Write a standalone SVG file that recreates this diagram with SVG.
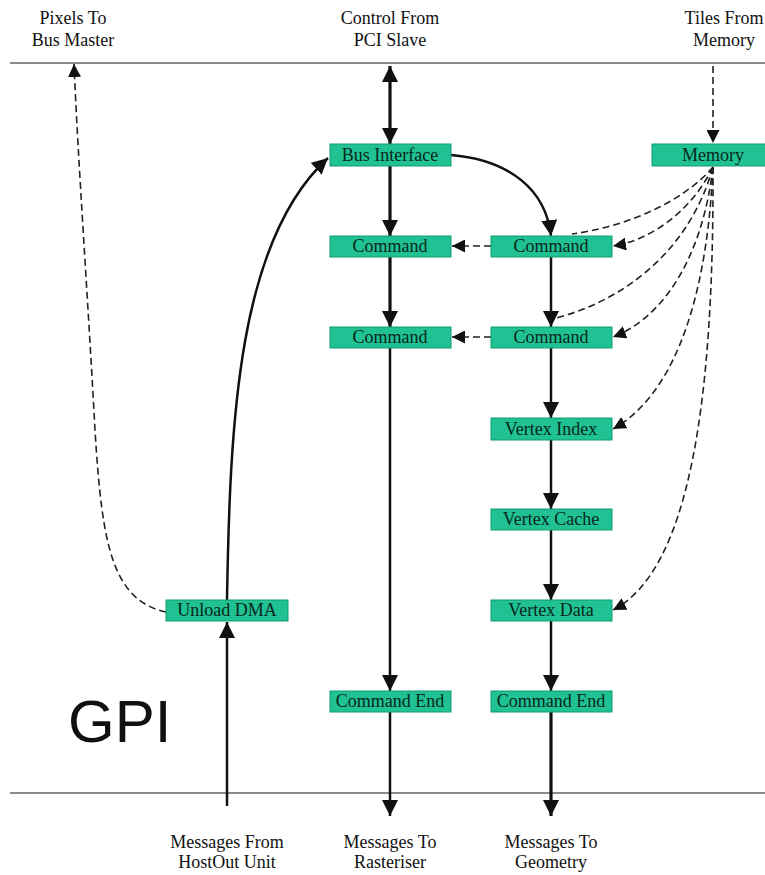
<svg xmlns="http://www.w3.org/2000/svg" width="765" height="875" viewBox="0 0 765 875">
<style>
.box{fill:#20c192;stroke:#159a70;stroke-width:1}
.bl{font-family:"Liberation Serif","Times New Roman",serif;font-size:18px;fill:#08281e;text-anchor:middle}
.lbl{font-family:"Liberation Serif","Times New Roman",serif;font-size:18px;fill:#111;text-anchor:middle}
.rule{stroke:#8c8c8c;stroke-width:2}
.s{fill:none;stroke:#111;stroke-width:2.5}
.t{fill:none;stroke:#111;stroke-width:3.2}
.d{fill:none;stroke:#222;stroke-width:1.6;stroke-dasharray:7,4}
</style>
<defs>
<marker id="ah" viewBox="0 0 10 10" refX="10" refY="5" markerWidth="16" markerHeight="16" markerUnits="userSpaceOnUse" orient="auto"><path d="M0,0 L10,5 L0,10 z" fill="#111"/></marker>
<marker id="ahs" viewBox="0 0 10 10" refX="10" refY="5" markerWidth="16" markerHeight="16" markerUnits="userSpaceOnUse" orient="auto-start-reverse"><path d="M0,0 L10,5 L0,10 z" fill="#111"/></marker>
<marker id="ad" viewBox="0 0 10 10" refX="10" refY="5" markerWidth="13" markerHeight="13" markerUnits="userSpaceOnUse" orient="auto"><path d="M0,0 L10,5 L0,10 z" fill="#111"/></marker>
</defs>
<rect width="765" height="875" fill="#fff"/>
<line class="rule" x1="10" y1="63" x2="765" y2="63"/>
<line class="rule" x1="10" y1="793" x2="765" y2="793"/>
<text x="68" y="742" font-family="Liberation Sans, Arial, sans-serif" font-size="60" fill="#111">GPI</text>
<g id="labels">
<text class="lbl" x="73" y="24">Pixels To</text>
<text class="lbl" x="73" y="46">Bus Master</text>
<text class="lbl" x="390" y="24">Control From</text>
<text class="lbl" x="390" y="46">PCI Slave</text>
<text class="lbl" x="724" y="24">Tiles From</text>
<text class="lbl" x="724" y="46">Memory</text>
<text class="lbl" x="227" y="848">Messages From</text>
<text class="lbl" x="227" y="868">HostOut Unit</text>
<text class="lbl" x="390" y="848">Messages To</text>
<text class="lbl" x="390" y="868">Rasteriser</text>
<text class="lbl" x="551" y="848">Messages To</text>
<text class="lbl" x="551" y="868">Geometry</text>
</g>
<g id="connectors">
<line class="t" x1="390" y1="66" x2="390" y2="144" marker-start="url(#ahs)" marker-end="url(#ah)"/>
<line class="d" x1="713" y1="66" x2="713" y2="143" marker-end="url(#ad)"/>
<path class="d" d="M166,612 C112,600 102,545 95,430 C88,300 78,160 74,64" marker-end="url(#ad)"/>
<line class="t" x1="390" y1="166" x2="390" y2="236" marker-end="url(#ah)"/>
<path class="s" d="M451,155 C510,160 546,190 551,236" marker-end="url(#ah)"/>
<path class="s" d="M227,600 C230,420 238,240 328,158" marker-end="url(#ah)"/>
<line class="s" x1="227" y1="806" x2="227" y2="622" marker-end="url(#ah)"/>
<line class="t" x1="390" y1="257" x2="390" y2="327" marker-end="url(#ah)"/>
<line class="s" x1="551" y1="257" x2="551" y2="327" marker-end="url(#ah)"/>
<line class="d" x1="491" y1="246" x2="452" y2="246" marker-end="url(#ad)"/>
<line class="d" x1="491" y1="337" x2="452" y2="337" marker-end="url(#ad)"/>
<line class="s" x1="551" y1="348" x2="551" y2="418" marker-end="url(#ah)"/>
<line class="s" x1="551" y1="440" x2="551" y2="509" marker-end="url(#ah)"/>
<line class="s" x1="551" y1="530" x2="551" y2="600" marker-end="url(#ah)"/>
<line class="s" x1="551" y1="621" x2="551" y2="691" marker-end="url(#ah)"/>
<line class="s" x1="390" y1="348" x2="390" y2="691" marker-end="url(#ah)"/>
<line class="s" x1="390" y1="712" x2="390" y2="816" marker-end="url(#ah)"/>
<line class="t" x1="551" y1="712" x2="551" y2="816" marker-end="url(#ah)"/>
<path class="d" d="M713,167 C685,200 630,226 572,234"/>
<path class="d" d="M713,167 C692,210 652,240 613,246" marker-end="url(#ad)"/>
<path class="d" d="M713,167 C690,250 625,300 556,318"/>
<path class="d" d="M713,167 C702,260 662,318 613,337" marker-end="url(#ad)"/>
<path class="d" d="M713,167 C706,320 665,400 613,429" marker-end="url(#ad)"/>
<path class="d" d="M713,167 C714,400 690,570 613,610" marker-end="url(#ad)"/>
</g>
<g id="n-bus"><rect class="box" x="330" y="144" width="121" height="22"/><text class="bl" x="390" y="161">Bus Interface</text></g>
<g id="n-mem"><rect class="box" x="652" y="144" width="114" height="22"/><text class="bl" x="713" y="161">Memory</text></g>
<g id="n-cmd1l"><rect class="box" x="330" y="236" width="121" height="21"/><text class="bl" x="390" y="252">Command</text></g>
<g id="n-cmd1r"><rect class="box" x="491" y="236" width="121" height="21"/><text class="bl" x="551" y="252">Command</text></g>
<g id="n-cmd2l"><rect class="box" x="330" y="327" width="121" height="21"/><text class="bl" x="390" y="343">Command</text></g>
<g id="n-cmd2r"><rect class="box" x="491" y="327" width="121" height="21"/><text class="bl" x="551" y="343">Command</text></g>
<g id="n-vidx"><rect class="box" x="491" y="418" width="121" height="22"/><text class="bl" x="551" y="435">Vertex Index</text></g>
<g id="n-vcache"><rect class="box" x="491" y="509" width="121" height="21"/><text class="bl" x="551" y="525">Vertex Cache</text></g>
<g id="n-vdata"><rect class="box" x="491" y="600" width="121" height="21"/><text class="bl" x="551" y="616">Vertex Data</text></g>
<g id="n-udma"><rect class="box" x="166" y="600" width="122" height="21"/><text class="bl" x="227" y="616">Unload DMA</text></g>
<g id="n-cendl"><rect class="box" x="330" y="691" width="121" height="21"/><text class="bl" x="390" y="707">Command End</text></g>
<g id="n-cendr"><rect class="box" x="491" y="691" width="121" height="21"/><text class="bl" x="551" y="707">Command End</text></g>
</svg>
